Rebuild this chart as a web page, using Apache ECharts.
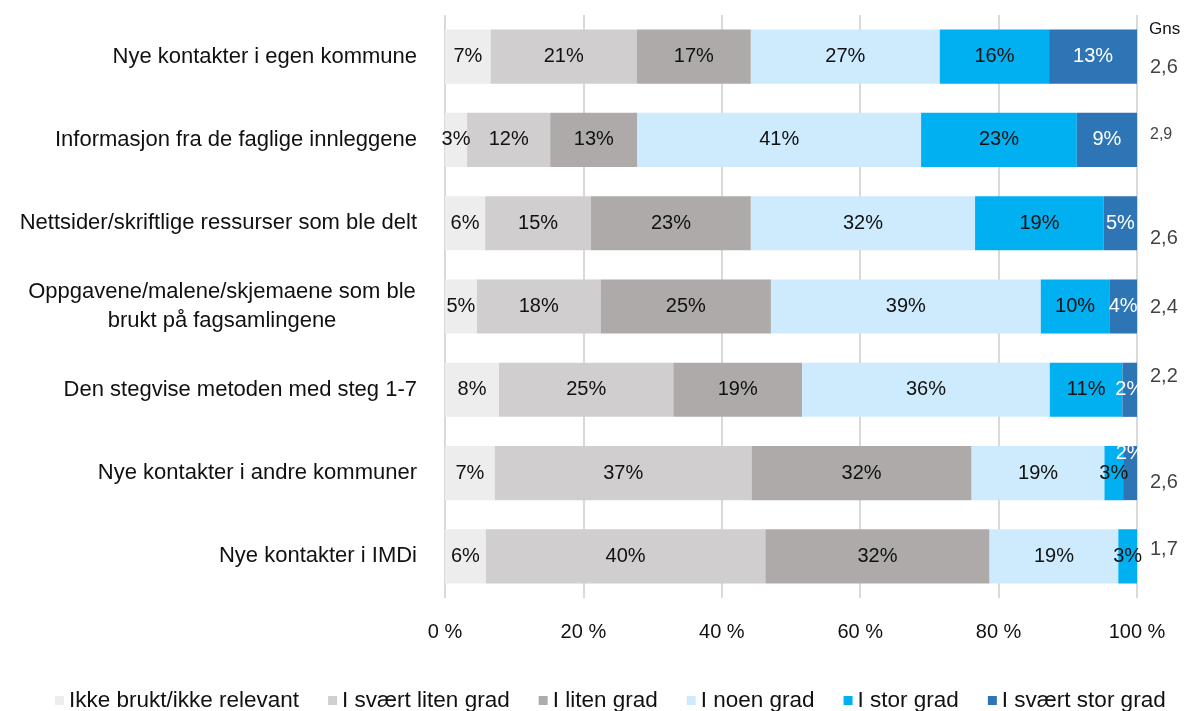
<!DOCTYPE html>
<html>
<head>
<meta charset="utf-8">
<script src="https://cdn.jsdelivr.net/npm/echarts@6/dist/echarts.min.js"></script>
<style>
  html, body { margin: 0; padding: 0; background: #fff; }
  #chart { width: 1188px; height: 711px; }
</style>
</head>
<body>
<div id="chart"></div>
<script>
// kategorier (øverst først)
var categories = [
  'Nye kontakter i egen kommune',
  'Informasjon fra de faglige innleggene',
  'Nettsider/skriftlige ressurser som ble delt',
  'Oppgavene/malene/skjemaene som ble\nbrukt på fagsamlingene',
  'Den stegvise metoden med steg 1-7',
  'Nye kontakter i andre kommuner',
  'Nye kontakter i IMDi'
];
var seriesNames = ['Ikke brukt/ikke relevant', 'I svært liten grad', 'I liten grad', 'I noen grad', 'I stor grad', 'I svært stor grad'];
var colors = ['#ededed', '#d0cece', '#aeaaaa', '#cdebfd', '#00b0f0', '#2e75b6'];

// andeler i prosent, lest av bildet
var ikkeBrukt = [6.6, 3.2, 5.8, 4.6, 7.8, 7.2, 5.9];
var sværtLiten = [21.1, 12.0, 15.3, 17.9, 25.2, 37.1, 40.4];
var liten = [16.5, 12.6, 23.1, 24.6, 18.6, 31.8, 32.4];
var noen = [27.3, 41.0, 32.4, 39.0, 35.8, 19.2, 18.6];
var stor = [15.8, 22.5, 18.6, 9.9, 10.5, 2.7, 2.7];
var sværtStor = [12.7, 8.7, 4.8, 4.0, 2.1, 2.0, 0];
var gns = ['2,6', '2,9', '2,6', '2,4', '2,2', '2,6', '1,7'];
var xTicks = [0, 20, 40, 60, 80, 100];

var allData = [ikkeBrukt, sværtLiten, liten, noen, stor, sværtStor];
var font = 'Liberation Sans';

var chart = echarts.init(document.getElementById('chart'));

var barSeries = allData.map(function (vals, i) {
  return {
    name: seriesNames[i],
    type: 'bar',
    stack: 'total',
    barWidth: '65%',
    itemStyle: { color: colors[i] },
    label: {
      show: true,
      position: 'inside',
      fontFamily: font,
      fontSize: 20,
      color: i === 5 ? '#fff' : '#111',
      formatter: function (p) { return p.value > 0 ? Math.round(p.value) + '%' : ''; }
    },
    data: vals.map(function (v, r) {
      // 2% i "andre kommuner" står over stolpen
      if (i === 5 && r === 5) return { value: v, label: { offset: [0, -20] } };
      return v;
    })
  };
});

// Gns-verdier til høyre
var gnsOffsets = [[0, 11], [0, -5], [0, 15], [0, 1], [0, -13], [0, 9], [0, -7]];
var gnsSeries = {
  name: 'Gns',
  type: 'scatter',
  symbolSize: 0,
  silent: true,
  label: {
    show: true,
    position: 'right',
    distance: 13,
    fontFamily: font,
    fontSize: 20,
    color: '#111',
    formatter: function (p) { return gns[p.dataIndex]; }
  },
  data: categories.map(function (c, r) {
    return {
      value: [100, r],
      label: { offset: gnsOffsets[r], fontSize: r === 1 ? 16 : 20 }
    };
  })
};

chart.setOption({
  animation: false,
  color: colors,
  grid: { left: 445, right: 51, top: 15, bottom: 113 },
  legend: {
    data: seriesNames,
    top: 684,
    left: 50,
    itemWidth: 9,
    itemHeight: 9,
    itemGap: 29,
    icon: 'rect',
    textStyle: { fontFamily: font, fontSize: 22.5, color: '#111' }
  },
  graphic: [{
    type: 'text',
    left: 1149,
    top: 21,
    style: { text: 'Gns', fontFamily: font, fontSize: 17, fill: '#111' }
  }],
  xAxis: {
    type: 'value',
    min: 0,
    max: 100,
    interval: 20,
    axisLine: { show: false },
    axisTick: { show: false },
    splitLine: { show: true, lineStyle: { color: '#d9d9d9', width: 2 } },
    axisLabel: {
      margin: 24,
      fontFamily: font,
      fontSize: 20,
      color: '#111',
      formatter: function (v) { return xTicks.indexOf(v) >= 0 ? v + ' %' : ''; }
    }
  },
  yAxis: {
    type: 'category',
    inverse: true,
    data: categories,
    axisLine: { show: false },
    axisTick: { show: false },
    axisLabel: {
      margin: 28,
      fontFamily: font,
      fontSize: 22,
      color: '#111',
      formatter: function (v) {
        return v.indexOf('\n') >= 0 ? '{c|' + v + '}' : v;
      },
      rich: {
        c: { width: 390, align: 'center', fontFamily: font, fontSize: 22, color: '#111', lineHeight: 29 }
      }
    }
  },
  series: barSeries.concat([gnsSeries])
});
</script>
</body>
</html>
